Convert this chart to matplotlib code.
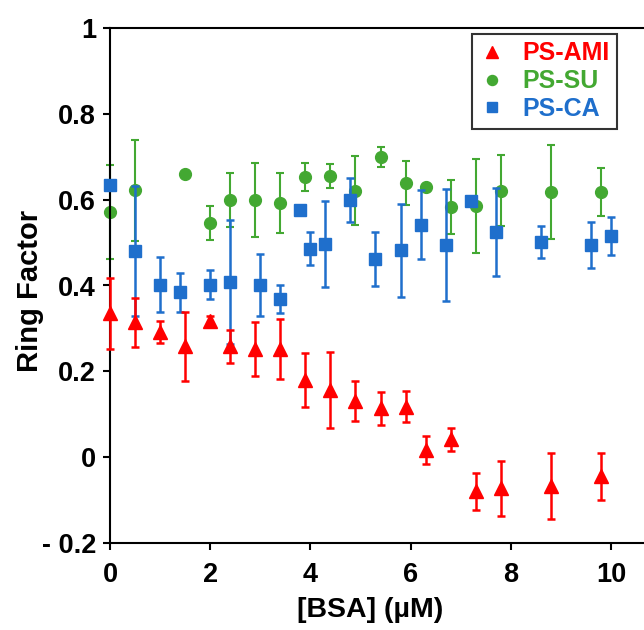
import numpy as np
import matplotlib
matplotlib.use("Agg")
from matplotlib import pyplot as plt

# PS-AMI (red triangles)
ami_x = [0, 0.5, 1.0, 1.5, 2.0, 2.4, 2.9, 3.4, 3.9, 4.4, 4.9, 5.4, 5.9, 6.3, 6.8, 7.3, 7.8, 8.8, 9.8]
ami_y = [0.335, 0.314, 0.292, 0.258, 0.318, 0.258, 0.252, 0.252, 0.180, 0.157, 0.131, 0.114, 0.118, 0.016, 0.042, -0.080, -0.073, -0.068, -0.045]
ami_err = [0.083, 0.058, 0.026, 0.080, 0.010, 0.039, 0.064, 0.070, 0.063, 0.089, 0.047, 0.039, 0.037, 0.033, 0.027, 0.042, 0.063, 0.077, 0.055]

# PS-SU (green circles)
su_x = [0, 0.5, 1.5, 2.0, 2.4, 2.9, 3.4, 3.9, 4.4, 4.9, 5.4, 5.9, 6.3, 6.8, 7.3, 7.8, 8.8, 9.8]
su_y = [0.571, 0.622, 0.659, 0.546, 0.599, 0.599, 0.593, 0.653, 0.655, 0.621, 0.700, 0.639, 0.630, 0.583, 0.585, 0.621, 0.618, 0.618]
su_err = [0.110, 0.118, 0.0, 0.040, 0.062, 0.086, 0.070, 0.032, 0.027, 0.081, 0.023, 0.051, 0.0, 0.062, 0.109, 0.082, 0.110, 0.056]

# PS-CA (blue squares)
ca_x = [0, 0.5, 1.0, 1.4, 2.0, 2.4, 3.0, 3.4, 3.8, 4.0, 4.3, 4.8, 5.3, 5.8, 6.2, 6.7, 7.2, 7.7, 8.6, 9.6, 10.0]
ca_y = [0.634, 0.480, 0.402, 0.384, 0.402, 0.408, 0.401, 0.369, 0.575, 0.486, 0.497, 0.599, 0.462, 0.482, 0.542, 0.495, 0.596, 0.525, 0.501, 0.494, 0.515]
ca_err = [0.01, 0.152, 0.064, 0.046, 0.034, 0.144, 0.072, 0.033, 0.01, 0.039, 0.100, 0.051, 0.063, 0.109, 0.080, 0.130, 0.01, 0.102, 0.037, 0.053, 0.045]

yticks = [-0.2, 0, 0.2, 0.4, 0.6, 0.8, 1.0]
ytick_labels = ["- 0.2", "0", "0.2", "0.4", "0.6", "0.8", "1"]

red = "#ff0000"
green = "#43a832"
blue = "#1f6fcc"

plt.rcParams["font.family"] = ["Liberation Sans", "DejaVu Sans"]
plt.rcParams["font.weight"] = "bold"

fig = plt.figure(figsize=(6.44, 6.30), dpi=100)
ax = fig.add_axes([110 / 644, 87 / 630, 1 - 110 / 644, 515 / 630])

eb_ca = ax.errorbar(ca_x, ca_y, yerr=ca_err, fmt="s", color=blue, ms=8, elinewidth=1.8,
                    capsize=3, capthick=1.8, label="PS-CA", zorder=3)
eb_su = ax.errorbar(su_x, su_y, yerr=su_err, fmt="o", color=green, ms=8.5, elinewidth=1.5,
                    capsize=3, capthick=1.5, label="PS-SU", zorder=2)
eb_ami = ax.errorbar(ami_x, ami_y, yerr=ami_err, fmt="^", color=red, ms=10, elinewidth=1.8,
                     capsize=3, capthick=1.8, label="PS-AMI", zorder=4)
# let the points sitting on x = 0 show over the spine
for eb in (eb_ca, eb_su, eb_ami):
    for art in eb.get_children():
        art.set_clip_on(False)

ax.set_xlim(0, 10.66)
ax.set_ylim(-0.2, 1.0)
ax.set_xticks([0, 2, 4, 6, 8, 10])
ax.set_yticks(yticks)
ax.set_yticklabels(ytick_labels)
ax.tick_params(axis="both", labelsize=19.5, width=1.5, length=5, direction="out")
ax.tick_params(axis="x", pad=9)
ax.tick_params(axis="y", pad=5)
for lab in ax.get_xticklabels() + ax.get_yticklabels():
    lab.set_fontweight("bold")

ax.spines["right"].set_visible(False)
for s in ["left", "top", "bottom"]:
    ax.spines[s].set_linewidth(1.5)

ax.set_xlabel("[BSA] (µM)", fontsize=20.5, fontweight="bold")
ax.set_ylabel("Ring Factor", fontsize=21, fontweight="bold")
ax.xaxis.set_label_coords(0.487, -0.104)
ax.yaxis.set_label_coords(-0.124, 0.49)

handles, labels = ax.get_legend_handles_labels()
handles = [h[0] for h in handles][::-1]
labels = labels[::-1]
leg = ax.legend(handles, labels, loc="upper left", bbox_to_anchor=(472 / 644, 1 - 34 / 630),
                bbox_transform=fig.transFigure, frameon=True, fancybox=False,
                edgecolor="black", fontsize=18, markerscale=0.85,
                handlelength=1.0, handletextpad=0.7, borderpad=0.3, labelspacing=0.15,
                borderaxespad=0)
leg.get_frame().set_linewidth(1.5)
for txt, c in zip(leg.get_texts(), [red, green, blue]):
    txt.set_color(c)
    txt.set_fontweight("bold")

fig.savefig("out.png", dpi=100)
